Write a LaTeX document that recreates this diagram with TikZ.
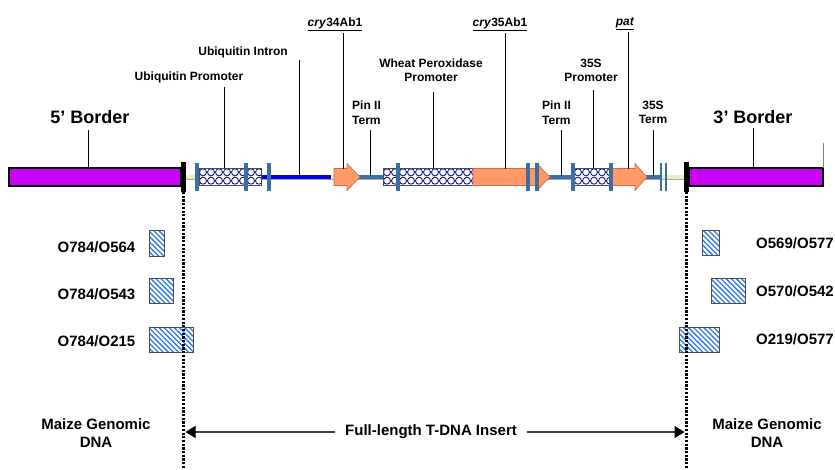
\documentclass[tikz,border=0pt]{standalone}
\usepackage{fontspec}
\setmainfont{Liberation Sans}
\usetikzlibrary{patterns,patterns.meta,arrows.meta}
\definecolor{mag}{RGB}{204,0,255}
\definecolor{steel}{RGB}{58,110,165}
\definecolor{brblue}{RGB}{0,0,230}
\definecolor{salmon}{RGB}{255,153,102}
\definecolor{salmonedge}{RGB}{205,105,75}
\definecolor{cream}{RGB}{238,238,196}
\definecolor{navytwo}{RGB}{25,25,140}
\definecolor{hatchblue}{RGB}{40,120,240}
\begin{document}
\begin{tikzpicture}[x=1pt,y=-1pt,
  lbl/.style={font=\fontsize{12}{14}\selectfont\bfseries, inner sep=0, align=center},
  lbll/.style={font=\fontsize{12}{15}\selectfont\bfseries, inner sep=0, align=left},
  big/.style={font=\fontsize{18}{20}\selectfont\bfseries, inner sep=0},
  prim/.style={font=\fontsize{15}{18}\selectfont\bfseries, inner sep=0, align=center},
  leader/.style={draw=black, line width=0.8},
  bar/.style={fill=steel, draw=none, minimum width=3.5, minimum height=28.5, inner sep=0},
  hbox/.style={draw=gray!60!black, line width=0.6, fill=white, inner sep=0, minimum height=17,
    path picture={\foreach \i in {0,...,14}{\foreach \j in {0,1}{
      \draw[navytwo,line width=0.9] ([xshift=4pt+8*\i pt, yshift=-4.3pt-8.4*\j pt]path picture bounding box.north west) circle[radius=3.5pt];}}}},
  pbox/.style={draw=gray!60!black, line width=0.8, pattern={Lines[angle=-45,distance=3.6pt,line width=1.3pt]}, pattern color=hatchblue},
  borderline/.style={line width=3, dash pattern=on 2.2pt off 1.5pt},
  mbar/.style={fill=mag, draw=black, line width=1.3},
  gene/.style={fill=salmon, draw=salmonedge, line width=0.6},
]
\useasboundingbox (0,0) rectangle (835,469);

% backbone
\draw[gray!70, line width=5] (186,177) -- (684,177);
\draw[cream, line width=3.4] (186,177) -- (684,177);
\draw[brblue, line width=3.5] (262,177) -- (331,177);
\draw[steel, line width=4] (358,177) -- (385,177);
\draw[steel, line width=4] (548,177) -- (574,177);
\draw[steel, line width=4] (645,177) -- (661,177);

% borders
\draw[mbar] (9,168) rectangle (181,186);
\draw[mbar] (689,168) rectangle (823,186);
\fill[black] (181,162) rectangle (186,192);
\fill[black] (684,162) rectangle (689,192);
\draw[gray, line width=0.8] (823,143) -- (823,168);

% hatched boxes
\node[hbox, minimum width=62] (ubp) at (230,176.5) {};
\node[hbox, minimum width=90] (wpp) at (428,176.5) {};
\node[hbox, minimum width=37] (ssp) at (592.5,176.5) {};

% genes
\draw[gene] (334,168.5) -- (347,168.5) -- (347,163.5) -- (360,177) -- (347,190.5) -- (347,185.5) -- (334,185.5) -- cycle;
\draw[gene] (473,168.5) -- (537,168.5) -- (537,163.5) -- (550,177) -- (537,190.5) -- (537,185.5) -- (473,185.5) -- cycle;
\draw[gene] (612,168.5) -- (635,168.5) -- (635,163.5) -- (647,177) -- (635,190.5) -- (635,185.5) -- (612,185.5) -- cycle;

% bars
\foreach \x/\n in {197/b1,246/b2,269/b3,398/b4,528/b5,537/b6,573/b7,611/b8}
  \node[bar] (\n) at (\x,176.75) {};
\node[bar, minimum width=2.6] (b9) at (661,176.75) {};
\node[bar, minimum width=2.6] (b10) at (666,176.75) {};

% labels
\node[big] (b5l) at (90,117) {5’ Border};
\node[big] (b3l) at (753,117) {3’ Border};
\node[lbl] (ubpl) at (189,77) {Ubiquitin Promoter};
\node[lbl] (ubil) at (243,52) {Ubiquitin Intron};
\node[lbl] (c34) at (335,24) {\underline{\textit{cry}34Ab1}};
\node[lbll, anchor=west] (pin1) at (352,112.5) {Pin II\\Term};
\node[lbl] (wpl) at (431,70.5) {Wheat Peroxidase\\Promoter};
\node[lbl] (c35) at (500,24) {\underline{\textit{cry}35Ab1}};
\node[lbll, anchor=west] (pin2) at (542,112.5) {Pin II\\Term};
\node[lbl] (sspl) at (591,70) {35S\\Promoter};
\node[lbl] (patl) at (625,24) {\underline{\textit{pat}}};
\node[lbl] (sstl) at (653,112.5) {35S\\Term};

% leaders
\draw[leader] (88,130) -- (88,168);
\draw[leader] (753,128) -- (753,168);
\draw[leader] (224,87) -- (224,168);
\draw[leader] (299,60) -- (299,176);
\draw[leader] (343,33) -- (343,168.5);
\draw[leader] (370,130) -- (370,176);
\draw[leader] (433,92) -- (433,168);
\draw[leader] (505,33) -- (505,168.5);
\draw[leader] (561,130) -- (561,176);
\draw[leader] (593,90) -- (593,168);
\draw[leader] (628,32) -- (628,168.5);
\draw[leader] (653,130) -- (653,176);

% primer boxes
\draw[pbox] (149,230) rectangle (164,256);
\draw[pbox] (149,278) rectangle (173,303);
\draw[pbox] (149,327) rectangle (193,352);
\draw[pbox] (702,230) rectangle (719,255);
\draw[pbox] (711,278) rectangle (745,303);
\draw[pbox] (679,327) rectangle (719,352);

\node[prim] (p1) at (96.5,247.5) {O784/O564};
\node[prim] (p2) at (96.5,294) {O784/O543};
\node[prim] (p3) at (96.5,341.5) {O784/O215};
\node[prim] (p4) at (795,243) {O569/O577};
\node[prim] (p5) at (795,291) {O570/O542};
\node[prim] (p6) at (795,339.5) {O219/O577};

% dotted border lines
\coordinate (dl1) at (183.5,192);
\coordinate (dl2) at (183.5,469);
\coordinate (dr1) at (686.5,192);
\coordinate (dr2) at (686.5,469);
\draw[borderline] (dl1) -- (dl2);
\draw[borderline] (dr1) -- (dr2);

% bottom
\node[prim] (mgl) at (96,433) {Maize Genomic\\DNA};
\node[prim] (mgr) at (767,433) {Maize Genomic\\DNA};
\coordinate (insl) at (185.5,432);
\coordinate (insr) at (684.5,432);
\draw[gray!50!black, line width=1.2, {Triangle[length=10pt,width=12pt,color=black]}-{Triangle[length=10pt,width=12pt,color=black]}] (insl) -- (insr);
\node[prim, fill=white, inner xsep=10pt, inner ysep=3pt] (ins) at (431,432) {Full-length T-DNA Insert};
\end{tikzpicture}
\end{document}
